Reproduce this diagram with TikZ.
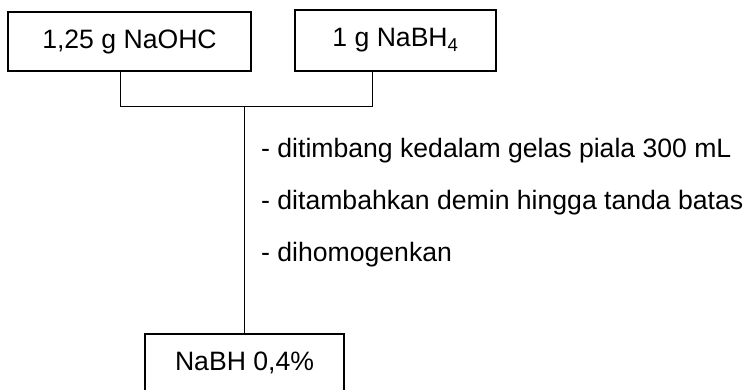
\documentclass[tikz,border=0pt]{standalone}
\usepackage{fontspec}
\setmainfont{Liberation Sans}
\begin{document}
\begin{tikzpicture}[x=1pt,y=-1pt,
  font=\fontsize{26.6}{31}\selectfont,
  box/.style={draw, line width=2.4pt, inner sep=0pt, align=center},
  conn/.style={line width=1pt},
  step text/.style={anchor=base west, inner sep=0pt}]
\useasboundingbox (0,0) rectangle (746,389);
\node[box, minimum width=243pt, minimum height=59pt] (b1) at (129.5,41.5) {1,25 g NaOHC};
\node[box, minimum width=201pt, minimum height=61pt] (b2) at (395.5,40.5) {1 g NaBH\textsubscript{4}};
\node[box, minimum width=199pt, text height=36pt, text depth=22pt, anchor=north] (b3) at (244.5,333) {NaBH 0,4\%};
\coordinate (jl) at (120,106);
\coordinate (jr) at (372,106);
\coordinate (jm) at (244.5,106);
\draw[conn] (b1.south -| jl) -- (jl) -- (jr) -- (b2.south -| jr);
\draw[conn] (jm) -- (b3.north);
\node[step text] (t1) at (261,157) {- ditimbang kedalam gelas piala 300 mL};
\node[step text] (t2) at (261,209) {- ditambahkan demin hingga tanda batas};
\node[step text] (t3) at (261,261) {- dihomogenkan};
\end{tikzpicture}
\end{document}
